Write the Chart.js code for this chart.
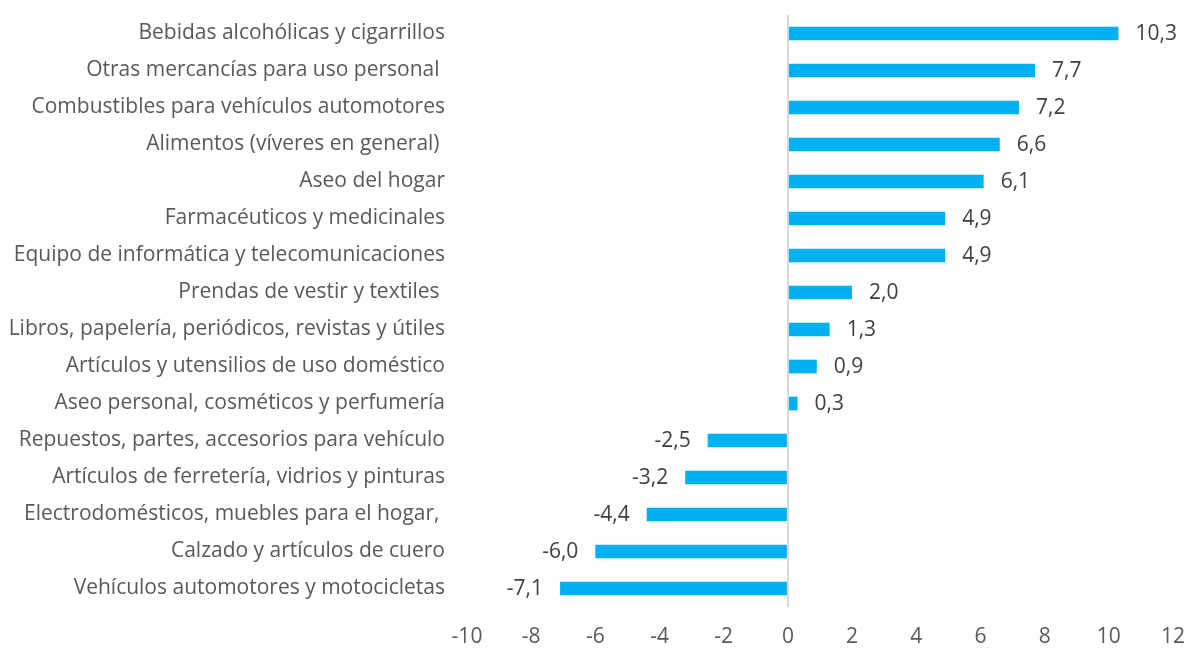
<!DOCTYPE html>
<html>
<head>
<meta charset="utf-8">
<script src="https://cdn.jsdelivr.net/npm/chart.js@4"></script>
<style>
    html, body { margin: 0; padding: 0; background: #fff; }
    #wrap { width: 1188px; height: 648px; }
</style>
</head>
<body>
<div id="wrap"><canvas id="chart_ventas"></canvas></div>
<script>
// categories, top to bottom
const categories = [
    "Bebidas alcohólicas y cigarrillos",
    "Otras mercancías para uso personal ",
    "Combustibles para vehículos automotores",
    "Alimentos (víveres en general) ",
    "Aseo del hogar",
    "Farmacéuticos y medicinales",
    "Equipo de informática y telecomunicaciones",
    "Prendas de vestir y textiles ",
    "Libros, papelería, periódicos, revistas y útiles",
    "Artículos y utensilios de uso doméstico",
    "Aseo personal, cosméticos y perfumería",
    "Repuestos, partes, accesorios para vehículo",
    "Artículos de ferretería, vidrios y pinturas",
    "Electrodomésticos, muebles para el hogar, ",
    "Calzado y artículos de cuero",
    "Vehículos automotores y motocicletas"
];
const values = [10.3, 7.7, 7.2, 6.6, 6.1, 4.9, 4.9, 2.0, 1.3, 0.9, 0.3, -2.5, -3.2, -4.4, -6.0, -7.1];
const xTicks = [-10, -8, -6, -4, -2, 0, 2, 4, 6, 8, 10, 12];

const fontFamily = "'Open Sans', sans-serif";
const fontSize = 21;

// value labels next to the bar ends, comma decimals
const valueLabels = {
    id: "valueLabels",
    afterDatasetsDraw(chart) {
        let ctx = chart.ctx;
        let meta = chart.getDatasetMeta(0);
        ctx.save();
        ctx.font = `${fontSize}px ${fontFamily}`;
        ctx.fillStyle = "#404040";
        ctx.textBaseline = "middle";
        meta.data.forEach((bar, i) => {
            let v = values[i];
            let txt = v.toFixed(1).replace(".", ",");
            if (v >= 0) {
                ctx.textAlign = "left";
                ctx.fillText(txt, bar.x + 17, bar.y + 1);
            } else {
                ctx.textAlign = "right";
                ctx.fillText(txt, bar.x - 17, bar.y + 1);
            }
        });
        ctx.restore();
    }
};

new Chart(document.getElementById("chart_ventas"), {
    type: "bar",
    data: {
        labels: categories,
        datasets: [{
            data: values,
            backgroundColor: "#00b0f0",
            borderWidth: 0,
            barPercentage: 0.37,
            categoryPercentage: 1
        }]
    },
    options: {
        indexAxis: "y",
        responsive: true,
        maintainAspectRatio: false,
        animation: false,
        layout: { padding: { top: 15, right: 15, left: 0, bottom: 0 } },
        plugins: {
            legend: { display: false },
            tooltip: { enabled: false }
        },
        scales: {
            x: {
                min: -10,
                max: 12,
                afterBuildTicks: (scale) => {
                    scale.ticks = xTicks.map(v => ({ value: v }));
                },
                afterFit: (scale) => {
                    scale.height = 41;
                    scale.paddingLeft = 0;
                    scale.paddingRight = 0;
                },
                border: { display: false },
                grid: {
                    drawTicks: false,
                    lineWidth: 2,
                    color: (c) => c.tick && c.tick.value === 0 ? "#d9d9d9" : "rgba(0,0,0,0)"
                },
                ticks: {
                    padding: 17,
                    color: "#595959",
                    font: { family: fontFamily, size: fontSize }
                }
            },
            y: {
                afterFit: (scale) => {
                    scale.width = 467;
                    scale.paddingTop = 0;
                    scale.paddingBottom = 0;
                },
                border: { display: false },
                grid: { display: false, drawTicks: false },
                ticks: {
                    padding: 22,
                    autoSkip: false,
                    color: "#595959",
                    font: { family: fontFamily, size: fontSize }
                }
            }
        }
    },
    plugins: [valueLabels]
});
</script>
</body>
</html>
